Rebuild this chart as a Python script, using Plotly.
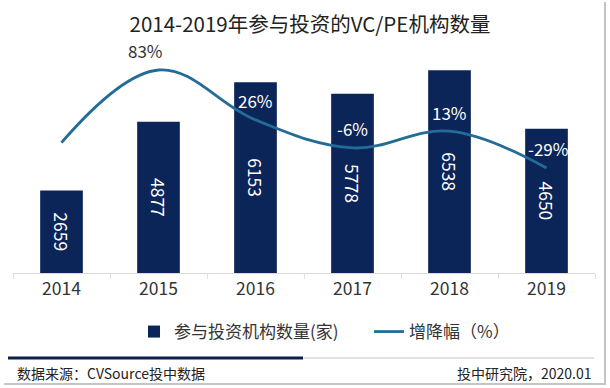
import plotly.graph_objects as go

years = ["2014", "2015", "2016", "2017", "2018", "2019"]
counts = [2659, 4877, 6153, 5778, 6538, 4650]
growth = [0, 83, 26, -6, 13, -29]
growth_labels = ["", "83%", "26%", "-6%", "13%", "-29%"]

BAR = "#0c2559"
LINE = "#246c98"
FONT = "Noto Sans CJK SC, Microsoft YaHei, sans-serif"

W, H = 610, 388
L, R, T, B = 13, 15, 60, 115
PW, PH = W - L - R, H - T - B


def px(x):
    return (x - L) / PW


def py(y):
    return (H - B - y) / PH


fig = go.Figure()
fig.add_trace(go.Bar(
    x=years, y=counts, name="参与投资机构数量(家)",
    marker=dict(color=BAR, line=dict(width=0)),
    width=0.44,
    text=[str(v) for v in counts], textposition="inside",
    insidetextanchor="middle", textangle=90,
    textfont=dict(color="white", size=17.5, family=FONT),
))
fig.add_trace(go.Scatter(
    x=years, y=growth, name="增降幅（%）", yaxis="y2",
    mode="lines", line=dict(color=LINE, width=2.8, shape="spline", smoothing=1.1),
))

annotations = []
for i, (g, lab) in enumerate(zip(growth, growth_labels)):
    if not lab:
        continue
    annotations.append(dict(
        x=i, y=g, xref="x", yref="y2", text=lab, showarrow=False,
        yshift=19, xshift=-13 if i == 1 else (1 if i == 5 else 0),
        font=dict(size=17, color="#333333" if i == 1 else "white", family=FONT),
    ))

annotations += [
    dict(x=px(15), y=py(373), xref="paper", yref="paper", text="数据来源：CVSource投中数据",
         showarrow=False, xanchor="left", yanchor="middle",
         font=dict(size=14, color="#222222", family=FONT)),
    dict(x=px(594), y=py(373), xref="paper", yref="paper", text="投中研究院，2020.01",
         showarrow=False, xanchor="right", yanchor="middle",
         font=dict(size=14, color="#222222", family=FONT)),
]

shapes = [
    dict(type="line", xref="paper", yref="paper", x0=px(300), x1=px(594), y0=py(358), y1=py(358),
         line=dict(color="#e3e3e3", width=2)),
    dict(type="line", xref="paper", yref="paper", x0=px(8), x1=px(303), y0=py(358), y1=py(358),
         line=dict(color="#0f1f4a", width=3)),
    dict(type="line", xref="paper", yref="paper", x0=px(605), x1=px(605), y0=py(2), y1=py(384),
         line=dict(color="#c4c4c4", width=2)),
    dict(type="line", xref="paper", yref="paper", x0=px(4), x1=px(606), y0=py(384), y1=py(384),
         line=dict(color="#c4c4c4", width=2)),
]

fig.update_layout(
    width=W, height=H,
    margin=dict(l=L, r=R, t=T, b=B, autoexpand=False),
    paper_bgcolor="white", plot_bgcolor="white",
    font=dict(family=FONT, color="#333333"),
    title=dict(text="2014-2019年参与投资的VC/PE机构数量", x=310 / W, xanchor="center",
               y=1 - 25 / H, yanchor="middle",
               font=dict(size=20.5, color="#222222", family=FONT)),
    xaxis=dict(type="category", range=[-0.5, len(years) - 0.5], autorange=False,
               showgrid=False, showline=True, linecolor="#d9d9d9", linewidth=1,
               ticks="outside", tickson="boundaries", ticklen=5, tickcolor="#e0e0e0",
               tickangle=0, automargin=False,
               tickfont=dict(size=17.5, color="#333333", family=FONT)),
    yaxis=dict(range=[0, 6869], visible=False, showgrid=False, zeroline=False),
    yaxis2=dict(range=[-149, 94.4], overlaying="y", visible=False, showgrid=False, zeroline=False),
    showlegend=True,
    legend=dict(orientation="h", x=px(134), xanchor="left", y=py(332), yanchor="middle",
                font=dict(size=17, color="#333333", family=FONT), itemwidth=30,
                entrywidth=190, traceorder="normal", bgcolor="rgba(0,0,0,0)"),
    annotations=annotations,
    shapes=shapes,
)

fig.write_html("out.html", config={"displayModeBar": False},
               post_script="document.body.style.margin='0px';")
